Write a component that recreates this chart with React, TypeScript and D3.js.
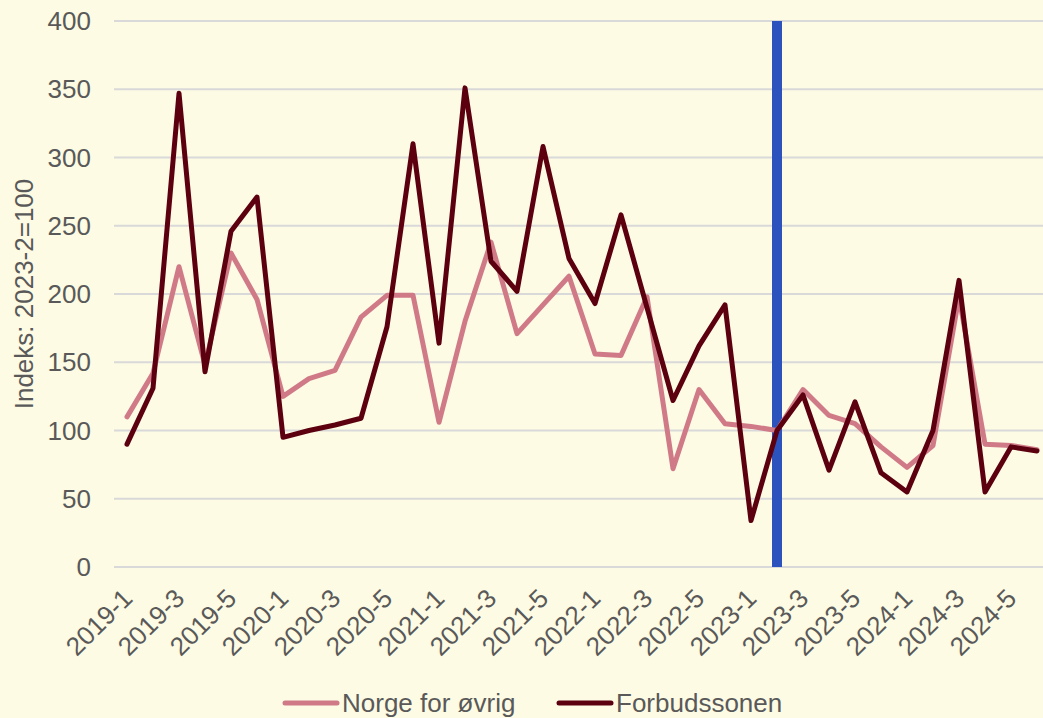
import React from "react";
import * as d3 from "d3";

const categories = [
  "2019-1", "2019-2", "2019-3", "2019-4", "2019-5", "2019-6",
  "2020-1", "2020-2", "2020-3", "2020-4", "2020-5", "2020-6",
  "2021-1", "2021-2", "2021-3", "2021-4", "2021-5", "2021-6",
  "2022-1", "2022-2", "2022-3", "2022-4", "2022-5", "2022-6",
  "2023-1", "2023-2", "2023-3", "2023-4", "2023-5", "2023-6",
  "2024-1", "2024-2", "2024-3", "2024-4", "2024-5", "2024-6",
];

const norge = [
  110, 142, 220, 148, 230, 196, 125, 138, 144, 183, 199, 199,
  106, 180, 238, 171, 192, 213, 156, 155, 198, 72, 130, 105,
  103, 100, 130, 111, 105, 88, 73, 89, 198, 90, 89, 86,
];

const forbud = [
  90, 131, 347, 143, 246, 271, 95, 100, 104, 109, 176, 310,
  164, 351, 224, 202, 308, 226, 193, 258, 190, 122, 162, 192,
  34, 100, 126, 71, 121, 69, 55, 100, 210, 55, 88, 85,
];

const yTicks = [0, 50, 100, 150, 200, 250, 300, 350, 400];
const markerCategory = "2023-2";

const W = 1043;
const H = 718;
const bg = "#fdfbe4";
const textColor = "#595959";
const pink = "#d07a88";
const dark = "#5c0010";
const blue = "#2b52bd";

export default function App() {
  const x = d3.scaleBand().domain(categories).range([114, 1050]);
  const cx = (c: string) => (x(c) as number) + x.bandwidth() / 2;
  const y = d3.scaleLinear().domain([0, 400]).range([567, 21]);

  const line = d3
    .line<number>()
    .x((d, i) => cx(categories[i]))
    .y((d) => y(d));

  const series = [
    { name: "Norge for øvrig", values: norge, color: pink },
    { name: "Forbudssonen", values: forbud, color: dark },
  ];

  return (
    <svg
      width={W}
      height={H}
      style={{ position: "absolute", left: 0, top: 0, background: bg }}
      fontFamily="'Liberation Sans', Arial, sans-serif"
    >
      <rect width={W} height={H} fill={bg} />
      {yTicks.map((t) => (
        <g key={t}>
          <line x1={114} x2={1050} y1={y(t)} y2={y(t)} stroke="#d9d9d9" strokeWidth={1.8} />
          <text x={91} y={y(t)} dy="0.35em" textAnchor="end" fontSize={26} fill={textColor}>
            {t}
          </text>
        </g>
      ))}
      <text
        transform={`translate(33,294) rotate(-90)`}
        textAnchor="middle"
        fontSize={26}
        fill={textColor}
      >
        Indeks: 2023-2=100
      </text>
      {categories.map((c, i) =>
        i % 2 === 0 ? (
          <text
            key={c}
            transform={`translate(${cx(c) + 7},${600}) rotate(-45)`}
            textAnchor="end"
            fontSize={26}
            fill={textColor}
          >
            {c}
          </text>
        ) : null
      )}
      <line
        x1={cx(markerCategory)}
        x2={cx(markerCategory)}
        y1={y(400)}
        y2={y(0)}
        stroke={blue}
        strokeWidth={10}
      />
      {series.map((s) => (
        <path
          key={s.name}
          d={line(s.values) || ""}
          fill="none"
          stroke={s.color}
          strokeWidth={5}
          strokeLinejoin="round"
          strokeLinecap="round"
        />
      ))}
      <g>
        <line x1={285} x2={337} y1={703} y2={703} stroke={pink} strokeWidth={5} strokeLinecap="round" />
        <text x={342} y={703} dy="0.35em" fontSize={26} fill={textColor}>
          Norge for øvrig
        </text>
        <line x1={559} x2={611} y1={703} y2={703} stroke={dark} strokeWidth={5} strokeLinecap="round" />
        <text x={616} y={703} dy="0.35em" fontSize={26} fill={textColor}>
          Forbudssonen
        </text>
      </g>
    </svg>
  );
}
